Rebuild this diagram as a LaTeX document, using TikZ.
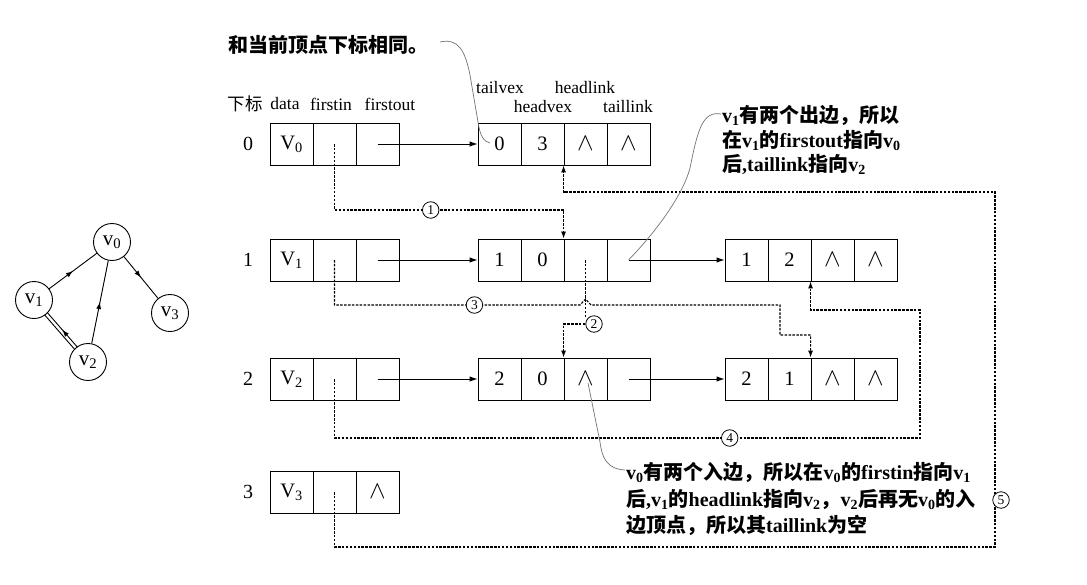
\documentclass[tikz,border=0pt]{standalone}
\usepackage{fontspec}
\setmainfont{Liberation Serif}
\newfontfamily\cjk{Noto Sans CJK SC}
\usetikzlibrary{arrows.meta,decorations.markings}

% Chinese run inside Latin text
\newcommand\zh[1]{{\cjk #1}}
% vertex row: name, y, data, firstout
\newcommand\vrow[4]{%
  \node[cell] (#1-d) at (291.5,#2) {#3};
  \node[cell] (#1-i) at (334.5,#2) {};
  \node[cell] (#1-o) at (377.5,#2) {#4};}
% edge node: name, left x, y, tailvex, headvex, headlink, taillink
\newcommand\erow[7]{%
  \node[cell] (#1-t) at (#2+21.5,#3) {#4};
  \node[cell] (#1-v) at (#2+64.5,#3) {#5};
  \node[cell] (#1-h) at (#2+107.5,#3) {#6};
  \node[cell] (#1-l) at (#2+150.5,#3) {#7};}
% null pointer mark
\newcommand\nil{{\fontsize{25}{25}\selectfont$\wedge$}}

\tikzset{
  cell/.style={draw, line width=0.9pt, minimum width=43pt, minimum height=42pt,
    inner sep=0pt, font=\fontsize{20.5}{20.5}\selectfont},
  hdr/.style={inner sep=0pt, font=\fontsize{17.5}{17.5}\selectfont},
  rownum/.style={inner sep=0pt, font=\fontsize{20}{20}\selectfont},
  link/.style={line width=0.9pt, -{Latex[length=8pt,width=5.5pt]}},
  dline/.style={line width=1.1pt, dash pattern=on 2.5pt off 1.4pt},
  dlink/.style={dline, -{Latex[length=7pt,width=5pt]}},
  num/.style={draw, circle, solid, fill=white, line width=0.8pt, minimum size=16.5pt,
    inner sep=0pt, font=\fontsize{13.5}{13.5}\selectfont},
  note/.style={draw=black!55, line width=0.7pt},
  vx/.style={draw, circle, line width=0.9pt, minimum size=37pt, inner sep=0pt,
    font=\fontsize{21}{21}\selectfont},
  gedge/.style={line width=0.9pt},
  midarrow/.style={postaction={decorate, decoration={markings,
    mark=at position 0.5 with {\arrow{Latex[length=7pt,width=5pt]}}}}},
  ntext/.style={inner sep=0pt, align=left, anchor=west, font=\bfseries\fontsize{20}{24.5}\selectfont},
}

\begin{document}
\begin{tikzpicture}[x=1pt,y=-1pt]
\fill[white] (0,0) rectangle (1087,584);
\useasboundingbox (0,0) rectangle (1087,584);

% ---------- the graph ----------
\node[vx] (g0) at (112,242) {v\textsubscript{0}};
\node[vx] (g1) at (34,300) {v\textsubscript{1}};
\node[vx] (g2) at (88,362) {v\textsubscript{2}};
\node[vx] (g3) at (170,313) {v\textsubscript{3}};
\draw[gedge,midarrow] (g1) -- (g0);
\draw[gedge,midarrow] (g2) -- (g0);
\draw[gedge,midarrow] (g0) -- (g3);
\draw[gedge, shorten <=18pt, shorten >=18pt]
  ([shift={(-1.3,1.2)}]g1.center) -- ([shift={(-1.3,1.2)}]g2.center);
\draw[gedge, shorten <=18pt, shorten >=18pt, midarrow]
  ([shift={(1.3,-1.2)}]g2.center) -- ([shift={(1.3,-1.2)}]g1.center);

% ---------- headers ----------
\node[hdr] (h-idx) at (245,104) {\zh{下标}};
\node[hdr] (h-data) at (285,104) {data};
\node[hdr] (h-in) at (331,104) {firstin};
\node[hdr] (h-out) at (390,104) {firstout};
\node[hdr] (h-tv) at (500,88) {tailvex};
\node[hdr] (h-hl) at (585,88) {headlink};
\node[hdr] (h-hv) at (543,107) {headvex};
\node[hdr] (h-tl) at (628,107) {taillink};

% ---------- row numbers ----------
\node[rownum] (r0) at (248,144) {0};
\node[rownum] (r1) at (248,260) {1};
\node[rownum] (r2) at (248,379) {2};
\node[rownum] (r3) at (248,492) {3};

% ---------- vertex table ----------
\vrow{v0}{144}{V\textsubscript{0}}{}
\vrow{v1}{260}{V\textsubscript{1}}{}
\vrow{v2}{379}{V\textsubscript{2}}{}
\vrow{v3}{492}{V\textsubscript{3}}{\nil}

% ---------- arc nodes ----------
\erow{e0}{478}{144}{0}{3}{\nil}{\nil}
\erow{e10}{478}{260}{1}{0}{}{}
\erow{e11}{725}{260}{1}{2}{\nil}{\nil}
\erow{e20}{478}{379}{2}{0}{\nil}{}
\erow{e21}{725}{379}{2}{1}{\nil}{\nil}

% ---------- firstout / taillink pointers ----------
\draw[link] (v0-o.center) -- (e0-t.west);
\draw[link] (v1-o.center) -- (e10-t.west);
\draw[link] (e10-l.center) -- (e11-t.west);
\draw[link] (v2-o.center) -- (e20-t.west);
\draw[link] (e20-l.center) -- (e21-t.west);

% ---------- firstin / headlink pointers ----------
% 1
\draw[dlink] (v0-i.center) -- ++(0,66) -| node[num,pos=0.21] {1} (e10-h.north west);
% 3
\draw[dlink] (v1-i.center) -- ++(0,45) -- node[num,pos=0.57] {3} (580,305)
  -- (585.5,299) -- (591,305) -- (780,305) -- (780,335) -| (e21-h.north west);
% 2
\node[num] (c2) at (594,324) {2};
\draw[dline] (e10-h.center) -- (e10-h.center |- c2.north west);
\draw[dlink] (c2.west) -| (e20-h.north west);
% 4
\draw[dlink] (v2-i.center) -- ++(0,59) -- node[num,pos=0.675] {4} (920,438)
  -- (920,310) -| (e11-h.south west);
% 5
\draw[dlink] (v3-i.center) -- ++(0,55) -- (995,547) -- (995,192) -| (e0-h.south west);
\node[num] (c5) at (1001,500) {5};

% ---------- notes ----------
\node[ntext] (n1) at (228,45) {\zh{和当前顶点下标相同。}};
\coordinate (n1a) at (440,42);
\coordinate (n1b) at (490,143);
\draw[note] (n1a) .. controls (458,38) and (465,50) .. (470,75)
  -- (478,122) .. controls (480,136) and (484,142) .. (n1b);

\node[ntext] (n2) at (722,140) {v\textsubscript{1}\zh{有两个出边，所以}\\
  \zh{在}v\textsubscript{1}\zh{的}firstout\zh{指向}v\textsubscript{0}\\
  \zh{后},taillink\zh{指向}v\textsubscript{2}};
\coordinate (n2a) at (721,114);
\draw[note] (n2a) .. controls (703,111) and (698,128) .. (690,168)
  .. controls (682,198) and (652,236) .. (e10-l.center);

\node[ntext, font=\bfseries\fontsize{20}{26.5}\selectfont] (n3) at (626,499)
  {v\textsubscript{0}\zh{有两个入边，所以在}v\textsubscript{0}\zh{的}firstin\zh{指向}v\textsubscript{1}\\
   \zh{后},v\textsubscript{1}\zh{的}headlink\zh{指向}v\textsubscript{2}\zh{，}v\textsubscript{2}\zh{后再无}v\textsubscript{0}\zh{的入}\\
   \zh{边顶点，所以其}taillink\zh{为空}};
\coordinate (n3a) at (625,470);
\coordinate (n3b) at (588,383);
\draw[note] (n3a) .. controls (607,469) and (602,458) .. (600,442) -- (n3b);
\end{tikzpicture}
\end{document}
